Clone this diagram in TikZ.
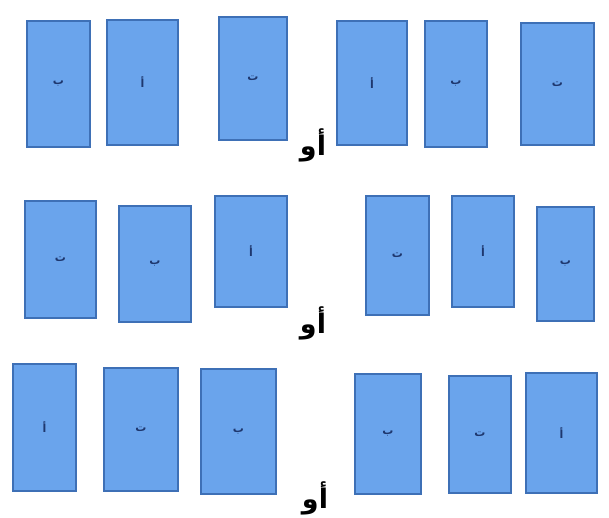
\documentclass[tikz,border=0pt]{standalone}
\usepackage{fontspec}
\TeXXeTstate=1
\newfontfamily\arabicfont[Script=Arabic]{DejaVu Sans}
\definecolor{cardfill}{RGB}{106,164,236}
\definecolor{carddraw}{RGB}{62,112,182}
\definecolor{letterc}{RGB}{30,55,110}
\tikzset{
  card/.style={draw=carddraw, line width=1.2pt, fill=cardfill, inner sep=0pt,
    font=\arabicfont\bfseries\fontsize{11}{12}\selectfont, text=letterc},
  ortext/.style={font=\arabicfont\bfseries\fontsize{27}{30}\selectfont, text=black, inner sep=0pt}
}
\begin{document}
\begin{tikzpicture}[x=1pt,y=-1pt]
\useasboundingbox[fill=white] (0,0) rectangle (609,517);
% row 1
\node[card, minimum width=63pt, minimum height=126pt] (c11) at (58.5,84) {\beginR ب\endR};
\node[card, minimum width=71pt, minimum height=125pt] (c12) at (142.5,82.5) {\beginR أ\endR};
\node[card, minimum width=68pt, minimum height=123pt] (c13) at (253,78.5) {\beginR ت\endR};
\node[card, minimum width=70pt, minimum height=124pt] (c14) at (372,83) {\beginR أ\endR};
\node[card, minimum width=62pt, minimum height=126pt] (c15) at (456,84) {\beginR ب\endR};
\node[card, minimum width=73pt, minimum height=122pt] (c16) at (557.5,84) {\beginR ت\endR};
\node[ortext] (o1) at (313,145) {\beginR أو\endR};
% row 2
\node[card, minimum width=71pt, minimum height=117pt] (c21) at (60.5,259.5) {\beginR ت\endR};
\node[card, minimum width=72pt, minimum height=116pt] (c22) at (155,264) {\beginR ب\endR};
\node[card, minimum width=72pt, minimum height=111pt] (c23) at (251,251.5) {\beginR أ\endR};
\node[card, minimum width=63pt, minimum height=119pt] (c24) at (397.5,255.5) {\beginR ت\endR};
\node[card, minimum width=62pt, minimum height=111pt] (c25) at (483,251.5) {\beginR أ\endR};
\node[card, minimum width=57pt, minimum height=114pt] (c26) at (565.5,264) {\beginR ب\endR};
\node[ortext] (o2) at (313,323) {\beginR أو\endR};
% row 3
\node[card, minimum width=63pt, minimum height=127pt] (c31) at (44.5,427.5) {\beginR أ\endR};
\node[card, minimum width=74pt, minimum height=123pt] (c32) at (141,429.5) {\beginR ت\endR};
\node[card, minimum width=75pt, minimum height=125pt] (c33) at (238.5,431.5) {\beginR ب\endR};
\node[card, minimum width=66pt, minimum height=120pt] (c34) at (388,434) {\beginR ب\endR};
\node[card, minimum width=62pt, minimum height=117pt] (c35) at (480,434.5) {\beginR ت\endR};
\node[card, minimum width=71pt, minimum height=120pt] (c36) at (561.5,433) {\beginR أ\endR};
\node[ortext] (o3) at (315,498) {\beginR أو\endR};
\end{tikzpicture}
\end{document}
